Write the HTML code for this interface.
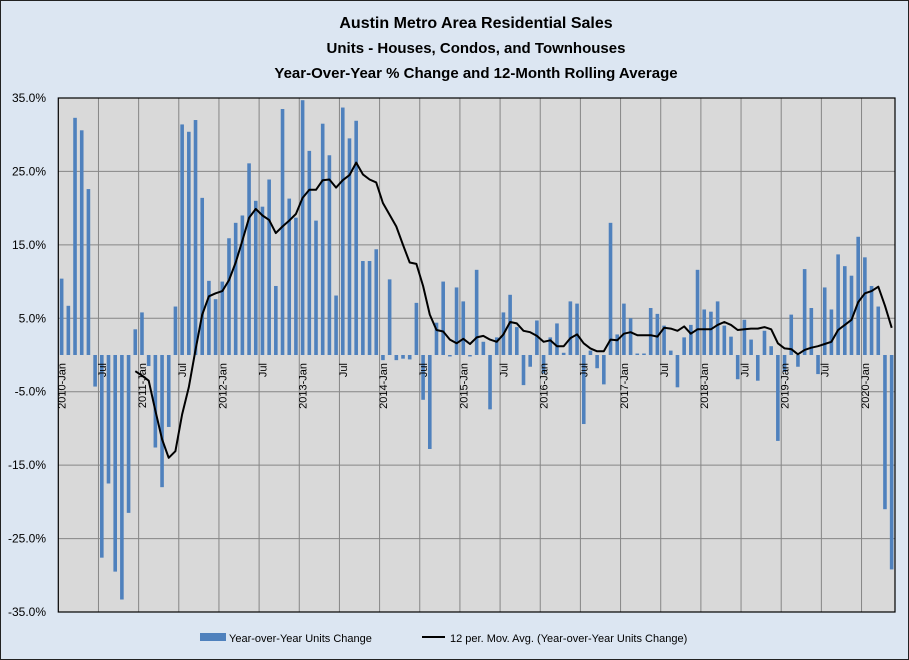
<!DOCTYPE html>
<html><head><meta charset="utf-8"><style>
html,body{margin:0;padding:0;background:#dce6f2;}
svg{display:block;font-family:"Liberation Sans",sans-serif;}
</style></head><body>
<svg id="c" width="909" height="660" xmlns="http://www.w3.org/2000/svg">
<rect x="0.5" y="0.5" width="908" height="659" fill="#dce6f2" stroke="#222"/>
<text x="476" y="28" text-anchor="middle" font-size="16" font-weight="bold">Austin Metro Area Residential Sales</text>
<text x="476" y="53" text-anchor="middle" font-size="15" font-weight="bold">Units - Houses, Condos, and Townhouses</text>
<text x="476" y="78" text-anchor="middle" font-size="15" font-weight="bold">Year-Over-Year % Change and 12-Month Rolling Average</text>
<g id="g"></g>
<rect x="200" y="633" width="26" height="8" fill="#4f81bd"/>
<text x="229" y="642" font-size="11">Year-over-Year Units Change</text>
<line x1="422" y1="637" x2="445" y2="637" stroke="#000" stroke-width="2"/>
<text x="450" y="642" font-size="11">12 per. Mov. Avg. (Year-over-Year Units Change)</text>
</svg>
<script>
var bars=[10.4,6.7,32.3,30.6,22.6,-4.3,-27.6,-17.5,-29.5,-33.3,-21.5,3.5,5.8,-1.5,-12.6,-18.0,-9.8,6.6,31.4,30.4,32.0,21.4,10.1,7.6,10.0,15.9,18.0,19,26.1,21.0,20.2,23.9,9.4,33.5,21.3,18.7,34.7,27.8,18.3,31.5,27.2,8.1,33.7,29.5,31.9,12.8,12.8,14.4,-0.7,10.3,-0.7,-0.5,-0.6,7.1,-6.1,-12.8,4.4,10.0,-0.2,9.2,7.3,-0.2,11.6,1.8,-7.4,2.4,5.8,8.2,3.8,-4.1,-1.6,4.7,-2.5,2.4,4.3,0.3,7.3,7.0,-9.4,0.6,-1.8,-4.0,18.0,2.8,7.0,5.0,0.2,0.2,6.4,5.6,4.0,0.6,-4.4,2.4,4.1,11.6,6.2,5.9,7.3,4.0,2.5,-3.3,4.8,2.1,-3.5,3.3,1.2,-11.7,-2.3,5.5,-1.6,11.7,6.4,-2.6,9.2,6.2,13.7,12.1,10.8,16.1,13.3,9.4,6.6,-21.0,-29.2];
var ma={11:-2.2,12:-2.8,13:-3.5,14:-7.6,15:-11.5,16:-14.0,17:-13.1,18:-8.1,19:-4.4,20:0.7,21:5.5,22:8.0,23:8.4,24:8.7,25:10.2,26:12.6,27:15.6,28:18.7,29:19.9,30:19.0,31:18.4,32:16.6,33:17.5,34:18.3,35:19.2,36:21.4,37:22.5,38:22.5,39:23.8,40:23.9,41:22.8,42:23.8,43:24.5,44:26.2,45:24.6,46:23.9,47:23.5,48:20.7,49:19.1,50:17.5,51:15.0,52:12.6,53:12.4,54:9.4,55:5.5,56:3.4,57:3.2,58:2.1,59:1.6,60:2.2,61:1.5,62:2.4,63:2.6,64:2.1,65:1.8,66:2.8,67:4.5,68:4.3,69:3.3,70:3.1,71:2.6,72:1.8,73:2.0,74:1.2,75:1.2,76:2.3,77:2.8,78:1.6,79:0.9,80:0.5,81:0.5,82:2.1,83:2.0,84:2.9,85:3.1,86:2.7,87:2.7,88:2.7,89:2.5,90:3.7,91:3.6,92:3.3,93:3.9,94:2.9,95:3.5,96:3.5,97:3.5,98:4.1,99:4.5,100:4.1,101:3.4,102:3.5,103:3.6,104:3.6,105:3.8,106:3.5,107:1.6,108:0.9,109:0.8,110:0.1,111:0.7,112:1.0,113:1.2,114:1.5,115:1.8,116:3.4,117:4.1,118:4.8,119:7.2,120:8.4,121:8.7,122:9.3,123:6.7,124:3.7};
var L=58.3,R=895,T=98,B=612,W=(R-L)/125,Z=(T+B)/2,S=(B-T)/70;
function y(v){return Z-v*S;}
var h='<rect x="'+L+'" y="'+T+'" width="'+(R-L)+'" height="'+(B-T)+'" fill="#d9d9d9"/>';
for(var i=0;i<=7;i++){var yy=T+i*(B-T)/7;h+='<line x1="'+L+'" x2="'+R+'" y1="'+yy+'" y2="'+yy+'" stroke="#868686" stroke-width="1"/>';
var v=35-i*10;h+='<text x="46" y="'+(yy+4)+'" text-anchor="end" font-size="12">'+v.toFixed(1)+'%</text>';}
for(var k=6;k<125;k+=6){var xx=L+k*W;h+='<line x1="'+xx+'" x2="'+xx+'" y1="'+T+'" y2="'+B+'" stroke="#868686" stroke-width="1"/>';}
for(var n=0;n<bars.length;n++){var cx=L+(n+.5)*W,v=bars[n],y0=Math.min(y(v),Z),hh=Math.abs(y(v)-Z);
h+='<rect x="'+(cx-1.8)+'" y="'+y0+'" width="3.6" height="'+hh+'" fill="#4f81bd"/>';}
var pts=[];for(var n=11;n<125;n++){pts.push((L+(n+.5)*W).toFixed(1)+','+y(ma[n]).toFixed(1));}
h+='<polyline points="'+pts.join(' ')+'" fill="none" stroke="#000" stroke-width="2" stroke-linejoin="round"/>';
h+='<rect x="'+L+'" y="'+T+'" width="'+(R-L)+'" height="'+(B-T)+'" fill="none" stroke="#000" stroke-width="1.2"/>';
for(var k=0;k<125;k+=6){var cx=L+(k+.5)*W+4;var lab=(k%12==0)?(2010+k/12)+'-Jan':'Jul';
h+='<text transform="translate('+cx.toFixed(1)+',363) rotate(-90)" text-anchor="end" font-size="11">'+lab+'</text>';}
document.getElementById('g').innerHTML=h;
</script>
</body></html>
